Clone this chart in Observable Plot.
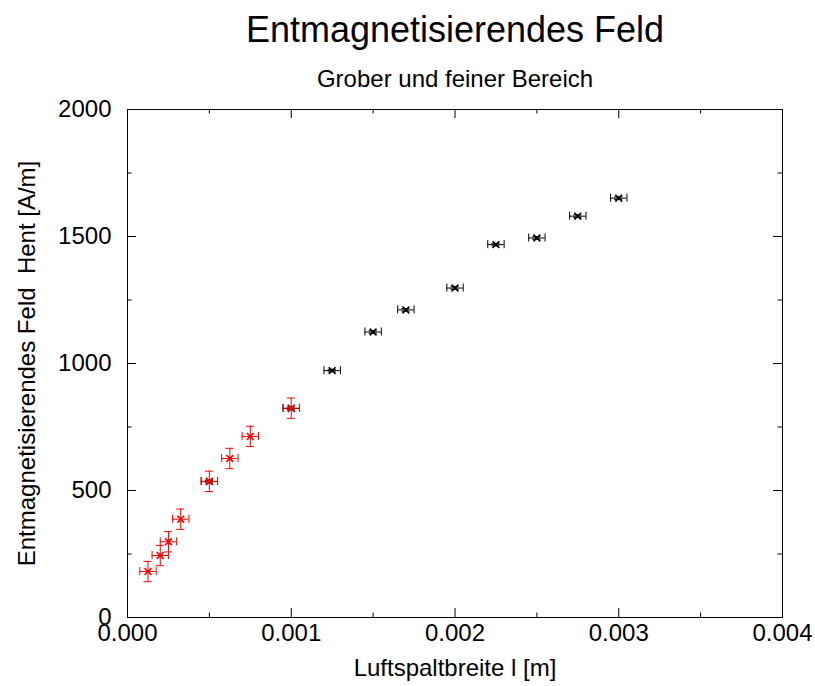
<!DOCTYPE html>
<html>
<head>
<meta charset="utf-8">
<script src="https://cdn.jsdelivr.net/npm/d3@7"></script>
<script src="https://cdn.jsdelivr.net/npm/@observablehq/plot@0.6"></script>
<style>
  body { margin: 0; background: #fff; }
  #chart svg { display: block; }
</style>
</head>
<body>
<div id="chart"></div>
<script>
// ---- data ----
const title = "Entmagnetisierendes Feld";
const subtitle = "Grober und feiner Bereich";
const xLabel = "Luftspaltbreite l [m]";
const yLabel = "Entmagnetisierendes Feld  Hent [A/m]";

// coarse range (black)
const coarseX = [0.0005, 0.001, 0.00125, 0.0015, 0.0017, 0.002, 0.00225, 0.0025, 0.00275, 0.003];
const coarseH = [535, 823, 972, 1124, 1211, 1297, 1468, 1494, 1580, 1651];
const coarseErrX = [0.00005, 0.00005, 0.00005, 0.00005, 0.00005, 0.00005, 0.00005, 0.00005, 0.00005, 0.00005];
const coarseErrH = [5, 5, 5, 5, 5, 5, 5, 5, 5, 5];

// fine range (red)
const fineX = [0.000125, 0.0002, 0.00025, 0.000325, 0.0005, 0.000625, 0.00075, 0.001];
const fineH = [181, 244, 298, 387, 536, 626, 713, 824];
const fineErrX = [0.00005, 0.00005, 0.00005, 0.00005, 0.00005, 0.00005, 0.00005, 0.00005];
const fineErrH = [40, 40, 40, 40, 40, 40, 40, 40];

const xMajor = [0, 0.001, 0.002, 0.003, 0.004];
const xMinor = [0.0005, 0.0015, 0.0025, 0.0035];
const yMajor = [0, 500, 1000, 1500, 2000];
const yMinor = [250, 750, 1250, 1750];

// ---- layout ----
const W = 815, H = 686;
const mL = 127, mR = 33, mT = 109, mB = 69;
const fw = W - mL - mR, fh = H - mT - mB;
const majorLen = 9, minorLen = 4.5, cap = 4;
const font = "'Liberation Sans', Arial, Helvetica, sans-serif";

const coarse = coarseX.map((x, i) => ({x, y: coarseH[i], ex: coarseErrX[i], ey: coarseErrH[i]}));
const fine = fineX.map((x, i) => ({x, y: fineH[i], ex: fineErrX[i], ey: fineErrH[i]}));

function errMarks(data, color) {
  return [
    Plot.ruleY(data, {y: "y", x1: d => d.x - d.ex, x2: d => d.x + d.ex, stroke: color}),
    Plot.ruleX(data, {x: "x", y1: d => d.y - d.ey, y2: d => d.y + d.ey, stroke: color}),
    Plot.ruleX(data, {x: d => d.x - d.ex, y1: "y", y2: "y", insetTop: -cap, insetBottom: -cap, stroke: color}),
    Plot.ruleX(data, {x: d => d.x + d.ex, y1: "y", y2: "y", insetTop: -cap, insetBottom: -cap, stroke: color}),
    Plot.ruleY(data, {y: d => d.y - d.ey, x1: "x", x2: "x", insetLeft: -cap, insetRight: -cap, stroke: color}),
    Plot.ruleY(data, {y: d => d.y + d.ey, x1: "x", x2: "x", insetLeft: -cap, insetRight: -cap, stroke: color}),
    Plot.dot(data, {x: "x", y: "y", symbol: "times", r: 3.2, stroke: color, strokeWidth: 1.6})
  ];
}

const chart = Plot.plot({
  width: W,
  height: H,
  marginLeft: mL, marginRight: mR, marginTop: mT, marginBottom: mB,
  style: {fontFamily: font, background: "#fff", color: "#000"},
  x: {domain: [0, 0.004], label: null},
  y: {domain: [0, 2000], label: null},
  marks: [
    Plot.axisX(xMajor, {tickSize: 0, tickPadding: 6, fontSize: 24, tickFormat: d3.format(".3f"), label: null}),
    Plot.axisY(yMajor, {tickSize: 0, tickPadding: 16, fontSize: 24, tickFormat: d3.format("d"), label: null}),
    // inward ticks on all four sides
    Plot.ruleX(xMajor, {x: d => d, insetTop: fh - majorLen, stroke: "#000"}),
    Plot.ruleX(xMinor, {x: d => d, insetTop: fh - minorLen, stroke: "#000"}),
    Plot.ruleX(xMajor, {x: d => d, insetBottom: fh - majorLen, stroke: "#000"}),
    Plot.ruleX(xMinor, {x: d => d, insetBottom: fh - minorLen, stroke: "#000"}),
    Plot.ruleY(yMajor, {y: d => d, insetRight: fw - majorLen, stroke: "#000"}),
    Plot.ruleY(yMinor, {y: d => d, insetRight: fw - minorLen, stroke: "#000"}),
    Plot.ruleY(yMajor, {y: d => d, insetLeft: fw - majorLen, stroke: "#000"}),
    Plot.ruleY(yMinor, {y: d => d, insetLeft: fw - minorLen, stroke: "#000"}),
    Plot.frame({stroke: "#000"}),
    ...errMarks(coarse, "#000"),
    ...errMarks(fine, "#ff0000"),
    // titles and axis labels
    Plot.text([title], {text: d => d, frameAnchor: "top", lineAnchor: "bottom", dy: 41 - mT, fontSize: 36, fill: "#000"}),
    Plot.text([subtitle], {text: d => d, frameAnchor: "top", lineAnchor: "bottom", dy: 86 - mT, fontSize: 24, fill: "#000"}),
    Plot.text([xLabel], {text: d => d, frameAnchor: "bottom", lineAnchor: "bottom", dy: 58, fontSize: 24, fill: "#000"}),
    Plot.text([yLabel], {text: d => d, frameAnchor: "left", textAnchor: "middle", rotate: -90, dx: 27 - mL, fontSize: 24, fill: "#000"})
  ]
});
document.getElementById("chart").appendChild(chart);
</script>
</body>
</html>
